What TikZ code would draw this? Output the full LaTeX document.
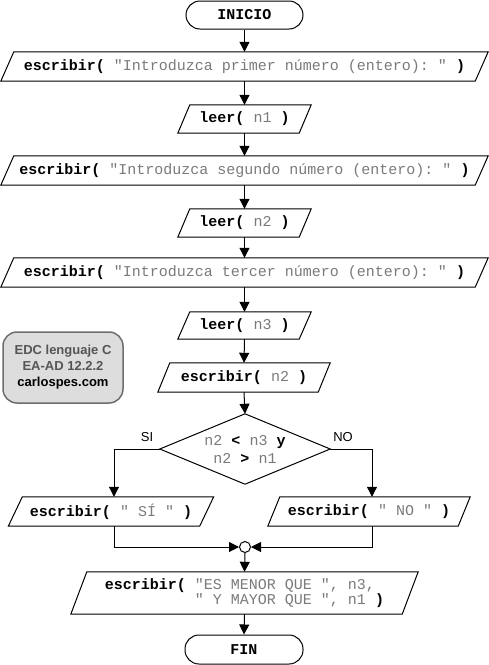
\documentclass[tikz,border=0pt]{standalone}
\usepackage{fontspec}
\setmainfont{Liberation Sans}
\setmonofont{Liberation Mono}
\usetikzlibrary{arrows.meta,calc}
\definecolor{strgray}{HTML}{7A7A7A}
\definecolor{boxfill}{HTML}{DDDDDD}
\definecolor{boxline}{HTML}{6E6E6E}
\definecolor{boxtext}{HTML}{555555}
\newcommand{\kwd}[1]{\textbf{#1}}
\newcommand{\strg}[1]{\textcolor{strgray}{#1}}
\begin{document}
\begin{tikzpicture}[x=1pt,y=-1pt,
  every node/.style={inner sep=0pt},
  mono/.style={font=\ttfamily\fontsize{15}{15}\selectfont},
  term/.style={mono, draw, line width=1pt, rounded corners=14pt, minimum height=28pt},
  io/.style={mono, minimum height=29pt},
  flow/.style={-{Triangle[length=10pt,width=10pt]}, line width=1pt},
  plain/.style={line width=1pt},
  lbl/.style={font=\fontsize{13}{13}\selectfont}
]
\useasboundingbox (0,0) rectangle (489,665);

\node[term, minimum width=117pt] (ini) at (244.5,15) {\kwd{INICIO}};
\node[io, minimum width=487pt] (p1) at (244.5,66.5) {\kwd{escribir(} \strg{"Introduzca primer número (entero): "} \kwd{)}};
\node[io, minimum width=133pt, minimum height=28pt] (l1) at (244.5,119) {\kwd{leer(} \strg{n1} \kwd{)}};
\node[io, minimum width=487pt] (p2) at (244.5,170.5) {\kwd{escribir(} \strg{"Introduzca segundo número (entero): "} \kwd{)}};
\node[io, minimum width=133pt, minimum height=28pt] (l2) at (244.5,223) {\kwd{leer(} \strg{n2} \kwd{)}};
\node[io, minimum width=487pt] (p3) at (244.5,272.5) {\kwd{escribir(} \strg{"Introduzca tercer número (entero): "} \kwd{)}};
\node[io, minimum width=133pt, minimum height=27pt] (l3) at (244.5,325.5) {\kwd{leer(} \strg{n3} \kwd{)}};
\node[io, minimum width=172pt] (w2) at (244,377.5) {\kwd{escribir(} \strg{n2} \kwd{)}};

\node[mono, minimum width=170pt, minimum height=70pt, align=center,
      font=\ttfamily\fontsize{15}{18}\selectfont] (dn) at (245,449)
  {\strg{n2} \kwd{<} \strg{n3} \kwd{y}\\\strg{n2} \kwd{>} \strg{n1}};
\draw[plain] (dn.north) -- (dn.east) -- (dn.south) -- (dn.west) -- cycle;

\node[lbl] (si) at (147,437) {SI};
\node[lbl] (no) at (343,437) {NO};

\node[io, minimum width=205pt] (ps) at (111,511.5) {\kwd{escribir(} \strg{" SÍ "} \kwd{)}};
\node[io, minimum width=202pt] (pn) at (369,511.5) {\kwd{escribir(} \strg{" NO "} \kwd{)}};

\node[circle, draw, line width=1pt, minimum size=11pt] (j) at (245,547) {};

\node[io, minimum width=347pt, minimum height=42pt, align=left,
      font=\ttfamily\fontsize{15}{13.5}\selectfont] (pf) at (244.5,593)
  {\kwd{escribir(} \strg{"ES MENOR QUE ", n3,}\\\phantom{escribir(}\ \strg{" Y MAYOR QUE ", n1} \kwd{)}};

\node[term, minimum width=118pt, minimum height=29pt] (fin) at (244,649.5) {\kwd{FIN}};

\foreach \n/\s in {p1/13,l1/12,p2/13,l2/12,p3/13,l3/12,w2/12,ps/14,pn/12,pf/16}
  \draw[plain] ([xshift=\s pt]\n.north west) -- (\n.north east)
     -- ([xshift=-\s pt]\n.south east) -- (\n.south west) -- cycle;

\node[draw=boxline, fill=boxfill, line width=1.5pt, rounded corners=14pt,
      minimum width=120pt, minimum height=71pt, align=center,
      font=\bfseries\fontsize{13}{16}\selectfont] (edc) at (63,367.5)
  {\textcolor{boxtext}{EDC lenguaje C}\\\textcolor{boxtext}{EA-AD 12.2.2}\\carlospes.com};

\draw[flow] (ini.south) -- (p1.north);
\draw[flow] (p1.south) -- (l1.north);
\draw[flow] (l1.south) -- (p2.north);
\draw[flow] (p2.south) -- (l2.north);
\draw[flow] (l2.south) -- (p3.north);
\draw[flow] (p3.south) -- (l3.north);
\draw[flow] (l3.south) -- (w2.north);
\draw[flow] (w2.south) -- (dn.north);

\coordinate (cl) at (114,449);
\coordinate (cr) at (372,449);
\draw[flow] (dn.west) -- (cl) -- (cl |- ps.north);
\draw[flow] (dn.east) -- (cr) -- (cr |- pn.north);
\draw[flow] (cl |- ps.south) -- (cl |- j) -- (j.west);
\draw[flow] (cr |- pn.south) -- (cr |- j) -- (j.east);
\draw[flow] (j.south) -- (pf.north);
\draw[flow] (pf.south) -- (fin.north);
\end{tikzpicture}
\end{document}
